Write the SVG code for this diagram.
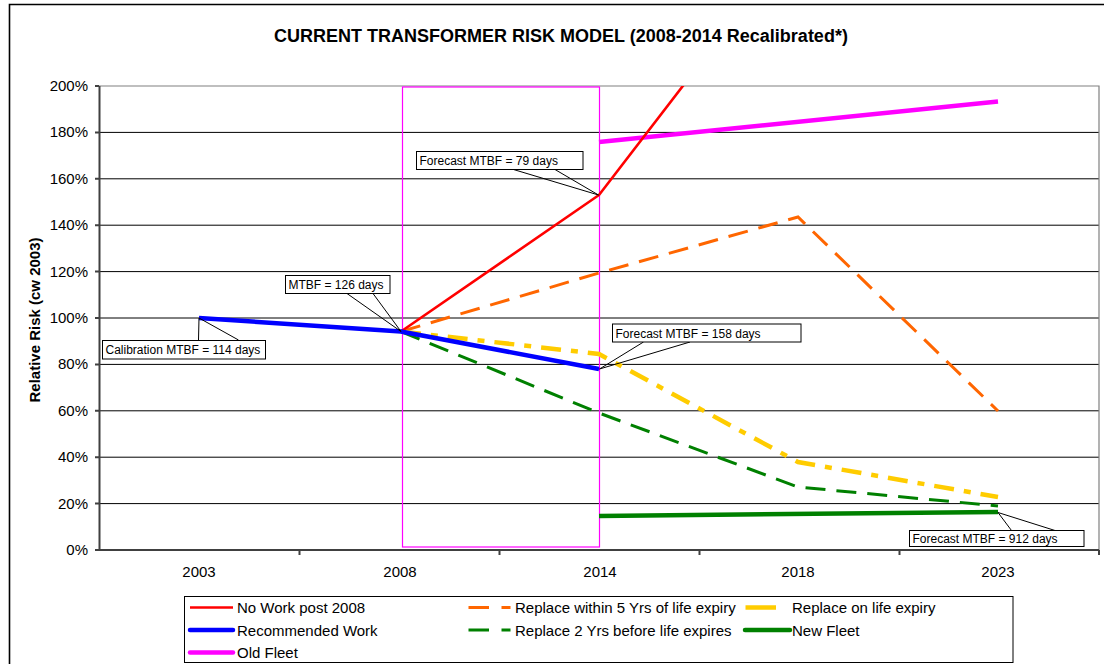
<svg xmlns="http://www.w3.org/2000/svg" width="1109" height="664" viewBox="0 0 1109 664">
  <defs>
    <style>
      text { font-family: "Liberation Sans", Arial, sans-serif; fill: #000; }
      .title { font-size: 18px; font-weight: bold; text-anchor: middle; }
      .axtitle { font-size: 15px; font-weight: bold; text-anchor: middle; }
      .tick { font-size: 15px; }
      .ylab { text-anchor: end; }
      .xlab { text-anchor: middle; }
      .grid { stroke: #000; stroke-width: 1; }
      .frame { stroke: #808080; stroke-width: 1.2; fill: none; }
      .axis { stroke: #404040; stroke-width: 2; fill: none; }
      .callout rect { fill: #fff; stroke: #000; stroke-width: 1; }
      .callout path { fill: none; stroke: #000; stroke-width: 1; }
      .callout text { font-size: 12px; }
      .leg text { font-size: 15px; }
      .s-red { stroke: #FF0000; stroke-width: 2.6; fill: none; stroke-linejoin: round; }
      .s-blue { stroke: #0000FF; stroke-width: 4.5; fill: none; stroke-linejoin: round; }
      .s-mag { stroke: #FF00FF; stroke-width: 4.5; fill: none; }
      .s-orange { stroke: #FF6600; stroke-width: 3; fill: none; stroke-dasharray: 20 11; }
      .s-yellow { stroke: #FFCC00; stroke-width: 4.5; fill: none; stroke-dasharray: 20 10 7 10; }
      .s-gdash { stroke: #008000; stroke-width: 3; fill: none; stroke-dasharray: 20 11; }
      .s-green { stroke: #008000; stroke-width: 4.5; fill: none; }
    </style>
    <clipPath id="plotClip">
      <rect x="99" y="86" width="1000" height="464"/>
    </clipPath>
  </defs>

  <!-- page background and chart border -->
  <rect x="0" y="0" width="1109" height="664" fill="#fff"/>
  <path d="M9.5 664 V4.5 H1104" fill="none" stroke="#000" stroke-width="1.6"/>

  <text class="title" x="561" y="42">CURRENT TRANSFORMER RISK MODEL (2008-2014 Recalibrated*)</text>

  <!-- gridlines every 20% -->
  <g id="gridlines">
    <line class="grid" x1="99" y1="132.4" x2="1099" y2="132.4"/>
    <line class="grid" x1="99" y1="178.8" x2="1099" y2="178.8"/>
    <line class="grid" x1="99" y1="225.2" x2="1099" y2="225.2"/>
    <line class="grid" x1="99" y1="271.6" x2="1099" y2="271.6"/>
    <line class="grid" x1="99" y1="318" x2="1099" y2="318"/>
    <line class="grid" x1="99" y1="364.4" x2="1099" y2="364.4"/>
    <line class="grid" x1="99" y1="410.8" x2="1099" y2="410.8"/>
    <line class="grid" x1="99" y1="457.2" x2="1099" y2="457.2"/>
    <line class="grid" x1="99" y1="503.6" x2="1099" y2="503.6"/>
  </g>

  <!-- plot frame and axes -->
  <g id="axes">
    <path class="frame" d="M99 86 H1099 V550"/>
    <path class="axis" d="M99.5 86 V550 H1099"/>
    <path class="axis" stroke-width="1.5" d="M95 86 H99 M95 132.4 H99 M95 178.8 H99 M95 225.2 H99 M95 271.6 H99 M95 318 H99 M95 364.4 H99 M95 410.8 H99 M95 457.2 H99 M95 503.6 H99 M95 550 H99"/>
    <path class="axis" stroke-width="1.5" d="M299.5 550 V555 M499.5 550 V555 M699.5 550 V555 M899.5 550 V555 M1099 550 V555"/>
  </g>

  <g id="y-labels" class="tick ylab">
    <text class="tick ylab" x="88" y="91">200%</text>
    <text class="tick ylab" x="88" y="137.4">180%</text>
    <text class="tick ylab" x="88" y="183.8">160%</text>
    <text class="tick ylab" x="88" y="230.2">140%</text>
    <text class="tick ylab" x="88" y="276.6">120%</text>
    <text class="tick ylab" x="88" y="323">100%</text>
    <text class="tick ylab" x="88" y="369.4">80%</text>
    <text class="tick ylab" x="88" y="415.8">60%</text>
    <text class="tick ylab" x="88" y="462.2">40%</text>
    <text class="tick ylab" x="88" y="508.6">20%</text>
    <text class="tick ylab" x="88" y="555">0%</text>
  </g>

  <g id="x-labels">
    <text class="tick xlab" x="199" y="577">2003</text>
    <text class="tick xlab" x="400" y="577">2008</text>
    <text class="tick xlab" x="600" y="577">2014</text>
    <text class="tick xlab" x="798" y="577">2018</text>
    <text class="tick xlab" x="998" y="577">2023</text>
  </g>

  <text class="axtitle" transform="translate(40 320) rotate(-90)">Relative Risk (cw 2003)</text>

  <!-- recalibration window 2008-2014 -->
  <rect id="window-2008-2014" x="402.5" y="87" width="197" height="460" fill="none" stroke="#FF00FF" stroke-width="1.2"/>

  <!-- data series -->
  <g id="series" clip-path="url(#plotClip)">
    <polyline id="replace-within-5" class="s-orange" points="401,331.5 599,273 798,217 998,411"/>
    <polyline id="replace-on-expiry" class="s-yellow" points="401,331.5 599,354 798,462 998,497"/>
    <polyline id="replace-2-before" class="s-gdash" points="401,331.5 599,413 798,487 998,506"/>
    <polyline id="new-fleet" class="s-green" points="599,516 998,512"/>
    <polyline id="old-fleet" class="s-mag" points="599,142 998,101.5"/>
    <polyline id="no-work" class="s-red" points="401,331.5 599,195 799,-65"/>
    <polyline id="recommended" class="s-blue" points="199,318 401,331.5 599,369"/>
  </g>

  <!-- MTBF callouts -->
  <g id="callout-calibration" class="callout">
    <path d="M198.5 340 L199 318 L238.5 340"/>
    <rect x="102.5" y="340.5" width="163" height="18.5"/>
    <text x="105.5" y="354">Calibration MTBF = 114 days</text>
  </g>
  <g id="callout-126" class="callout">
    <path d="M347 293.5 L401 331.5 L373 293.5"/>
    <rect x="285.5" y="275.5" width="104.5" height="18"/>
    <text x="288.5" y="289">MTBF = 126 days</text>
  </g>
  <g id="callout-79" class="callout">
    <path d="M513.5 169.5 L598.5 195 L555 169.5"/>
    <rect x="416.5" y="151.5" width="166.5" height="18"/>
    <text x="419.5" y="165">Forecast MTBF = 79 days</text>
  </g>
  <g id="callout-158" class="callout">
    <path d="M643.5 342 L599.5 369 L690 342"/>
    <rect x="612.5" y="324" width="188.5" height="18"/>
    <text x="615.5" y="337.5">Forecast MTBF = 158 days</text>
  </g>
  <g id="callout-912" class="callout">
    <path d="M1011.5 530.5 L998 512.5 L1055 530.5"/>
    <rect x="909.5" y="530.5" width="174.5" height="16"/>
    <text x="912.5" y="543">Forecast MTBF = 912 days</text>
  </g>

  <!-- legend -->
  <g id="legend" class="leg">
    <rect x="184.5" y="596.5" width="828.5" height="66" fill="#fff" stroke="#000" stroke-width="1"/>
    <line x1="190" y1="607.5" x2="233" y2="607.5" stroke="#FF0000" stroke-width="2.6"/>
    <text x="237" y="613">No Work post 2008</text>
    <line x1="190" y1="630" x2="233" y2="630" stroke="#0000FF" stroke-width="4.5" stroke-linecap="round"/>
    <text x="237" y="635.5">Recommended Work</text>
    <line x1="190" y1="652.5" x2="233" y2="652.5" stroke="#FF00FF" stroke-width="4.5" stroke-linecap="round"/>
    <text x="237" y="658">Old Fleet</text>

    <path d="M468.5 607.5 H489 M501.5 607.5 H510.5" stroke="#FF6600" stroke-width="3"/>
    <text x="515" y="613">Replace within 5 Yrs of life expiry</text>
    <path d="M468.5 630 H489 M501.5 630 H510.5" stroke="#008000" stroke-width="3"/>
    <text x="515" y="635.5">Replace 2 Yrs before life expires</text>

    <line x1="745.5" y1="607.5" x2="776" y2="607.5" stroke="#FFCC00" stroke-width="4.5"/>
    <text x="792" y="613">Replace on life expiry</text>
    <line x1="745" y1="630" x2="790" y2="630" stroke="#008000" stroke-width="4.5" stroke-linecap="round"/>
    <text x="792" y="635.5">New Fleet</text>
  </g>
</svg>
